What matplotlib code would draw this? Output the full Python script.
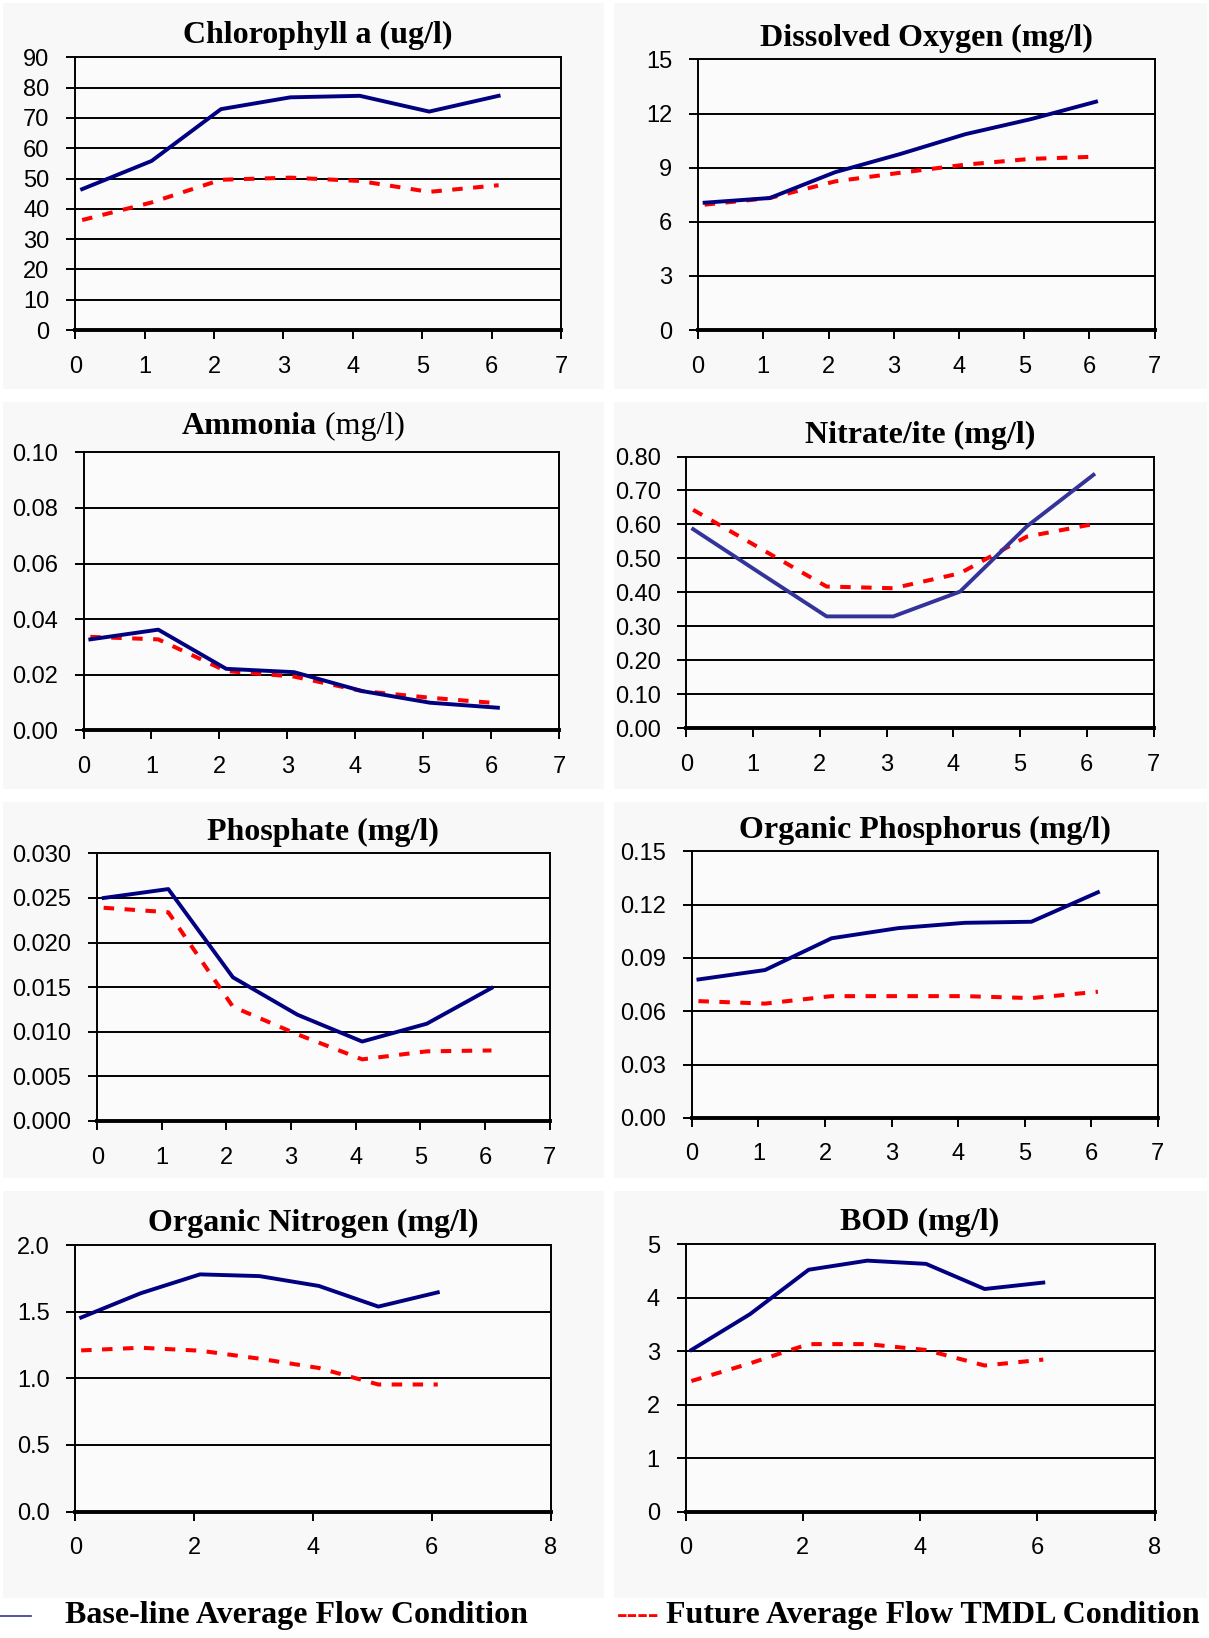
import matplotlib
matplotlib.use('Agg')
import matplotlib.pyplot as plt
from matplotlib.lines import Line2D
from matplotlib.patches import Rectangle


# distancia (x) comum a todos os graficos
x = [0.1, 1.1, 2.1, 3.1, 4.1, 5.1, 6.1]

titulos = ['Chlorophyll a (ug/l)', 'Dissolved Oxygen (mg/l)', 'Ammonia', 'Nitrate/ite (mg/l)',
           'Phosphate (mg/l)', 'Organic Phosphorus (mg/l)', 'Organic Nitrogen (mg/l)', 'BOD (mg/l)']

# base-line (azul)
chl_base = [46.5, 55.8, 72.9, 76.8, 77.3, 72.1, 77.3]
do_base = [7.06, 7.32, 8.75, 9.76, 10.86, 11.69, 12.66]
amm_base = [0.0327, 0.0362, 0.0221, 0.0209, 0.0141, 0.0099, 0.0081]
nit_base = [0.586, 0.457, 0.329, 0.329, 0.402, 0.594, 0.746]
pho_base = [0.0250, 0.0260, 0.0161, 0.0119, 0.0089, 0.0109, 0.0149]
orgp_base = [0.0779, 0.0832, 0.1011, 0.1068, 0.1098, 0.1104, 0.1270]
orgn_base = [1.457, 1.639, 1.781, 1.768, 1.694, 1.539, 1.646]
bod_base = [3.02, 3.69, 4.52, 4.69, 4.63, 4.16, 4.28]

# futuro TMDL (vermelho)
chl_fut = [36.3, 42.1, 49.6, 50.3, 49.2, 45.6, 47.8]
do_fut = [6.95, 7.32, 8.24, 8.72, 9.17, 9.49, 9.61]
amm_fut = [0.0336, 0.0327, 0.0213, 0.0193, 0.0141, 0.0117, 0.0097]
nit_fut = [0.643, 0.530, 0.417, 0.412, 0.456, 0.564, 0.601]
pho_fut = [0.0239, 0.0234, 0.0128, 0.0097, 0.0069, 0.0078, 0.0079]
orgp_fut = [0.0657, 0.0643, 0.0685, 0.0685, 0.0685, 0.0674, 0.0710]
orgn_fut = [1.210, 1.230, 1.208, 1.148, 1.078, 0.954, 0.954]
bod_fut = [2.44, 2.77, 3.13, 3.13, 3.02, 2.73, 2.84]

# eixos y (ticks e formato dos rotulos)
yticks = [[0, 10, 20, 30, 40, 50, 60, 70, 80, 90],
          [0, 3, 6, 9, 12, 15],
          [0.0, 0.02, 0.04, 0.06, 0.08, 0.10],
          [0.0, 0.1, 0.2, 0.3, 0.4, 0.5, 0.6, 0.7, 0.8],
          [0.0, 0.005, 0.010, 0.015, 0.020, 0.025, 0.030],
          [0.0, 0.03, 0.06, 0.09, 0.12, 0.15],
          [0.0, 0.5, 1.0, 1.5, 2.0],
          [0, 1, 2, 3, 4, 5]]
yfmt = ['{:.0f}', '{:.0f}', '{:.2f}', '{:.2f}', '{:.3f}', '{:.2f}', '{:.1f}', '{:.0f}']
xticks = [list(range(8))] * 6 + [[0, 2, 4, 6, 8]] * 2

base = [chl_base, do_base, amm_base, nit_base, pho_base, orgp_base, orgn_base, bod_base]
fut = [chl_fut, do_fut, amm_fut, nit_fut, pho_fut, orgp_fut, orgn_fut, bod_fut]
cor_base = ['#000080', '#000080', '#000080', '#333399', '#000080', '#000080', '#000080', '#000080']

# posicoes dos graficos (left, bottom, width, height)
posicoes = [[0.0622, 0.7985, 0.4019, 0.1665],
            [0.5774, 0.7985, 0.3777, 0.1652],
            [0.0691, 0.5542, 0.3933, 0.1696],
            [0.5678, 0.5555, 0.3863, 0.1658],
            [0.0804, 0.3157, 0.3742, 0.1633],
            [0.5722, 0.3176, 0.3855, 0.1626],
            [0.0622, 0.0772, 0.3933, 0.1626],
            [0.5670, 0.0772, 0.3881, 0.1633]]

fundos = [[0.0026, 0.7628, 0.497, 0.2353], [0.508, 0.7628, 0.49, 0.2353],
          [0.0026, 0.5185, 0.497, 0.236], [0.508, 0.5185, 0.49, 0.236],
          [0.0026, 0.2806, 0.497, 0.2296], [0.508, 0.2806, 0.49, 0.2296],
          [0.0026, 0.0242, 0.497, 0.2487], [0.508, 0.0242, 0.49, 0.2487]]

fig = plt.figure(figsize=(12.09, 16.38), dpi=100)
fig.patch.set_facecolor('white')

for f in fundos:
    fig.add_artist(Rectangle((f[0], f[1]), f[2], f[3], transform=fig.transFigure,
                             facecolor='#f8f8f8', edgecolor='none', zorder=0))

serif = 'Liberation Serif'
sans = 'Liberation Sans'

for i in range(8):
    ax = fig.add_axes(posicoes[i])
    ax.set_facecolor('#fbfbfb')
    yt = yticks[i]
    xt = xticks[i]
    ax.set_ylim(yt[0], yt[-1])
    ax.set_xlim(xt[0], xt[-1])
    for v in yt[1:-1]:
        ax.axhline(v, color='black', lw=1.4, zorder=1)
    ax.plot(x, fut[i], color='#ff0000', lw=2.9, ls=(0, (2.6, 2.6)), zorder=3)
    ax.plot(x, base[i], color=cor_base[i], lw=2.8, zorder=4)

    ax.set_yticks(yt)
    ax.set_yticklabels([yfmt[i].format(v) for v in yt], fontname=sans, fontsize=17)
    ax.set_xticks(xt)
    ax.set_xticklabels([str(v) for v in xt], fontname=sans, fontsize=17)
    ax.tick_params(axis='y', direction='out', length=6.5, width=1.4, pad=12)
    ax.tick_params(axis='x', direction='out', length=6.5, width=1.4, pad=12)
    for s in ['top', 'right', 'left']:
        ax.spines[s].set_linewidth(1.4)
    ax.spines['bottom'].set_linewidth(2.8)

    if i == 2:
        ax.text(0.49, 1.04, 'Ammonia', transform=ax.transAxes, ha='right', va='bottom',
                fontname=serif, fontweight='bold', fontsize=23)
        ax.text(0.49, 1.04, ' (mg/l)', transform=ax.transAxes, ha='left', va='bottom',
                fontname=serif, fontsize=23)
    else:
        ax.set_title(titulos[i], fontname=serif, fontweight='bold', fontsize=23, pad=10)

# legenda no rodape
fig.add_artist(Line2D([0.0, 0.026], [0.0135, 0.0135], transform=fig.transFigure,
                      color='#333399', lw=1.2))
fig.text(0.0535, 0.0135, 'Base-line Average Flow Condition', fontname=serif,
         fontweight='bold', fontsize=23, va='center', ha='left')
fig.text(0.51, 0.0135, '----', fontname=serif, fontweight='bold', fontsize=23,
         color='#ff0000', va='center', ha='left')
fig.text(0.551, 0.0135, 'Future Average Flow TMDL Condition', fontname=serif,
         fontweight='bold', fontsize=23, va='center', ha='left')

plt.savefig('out.png', dpi=100, facecolor='white')
